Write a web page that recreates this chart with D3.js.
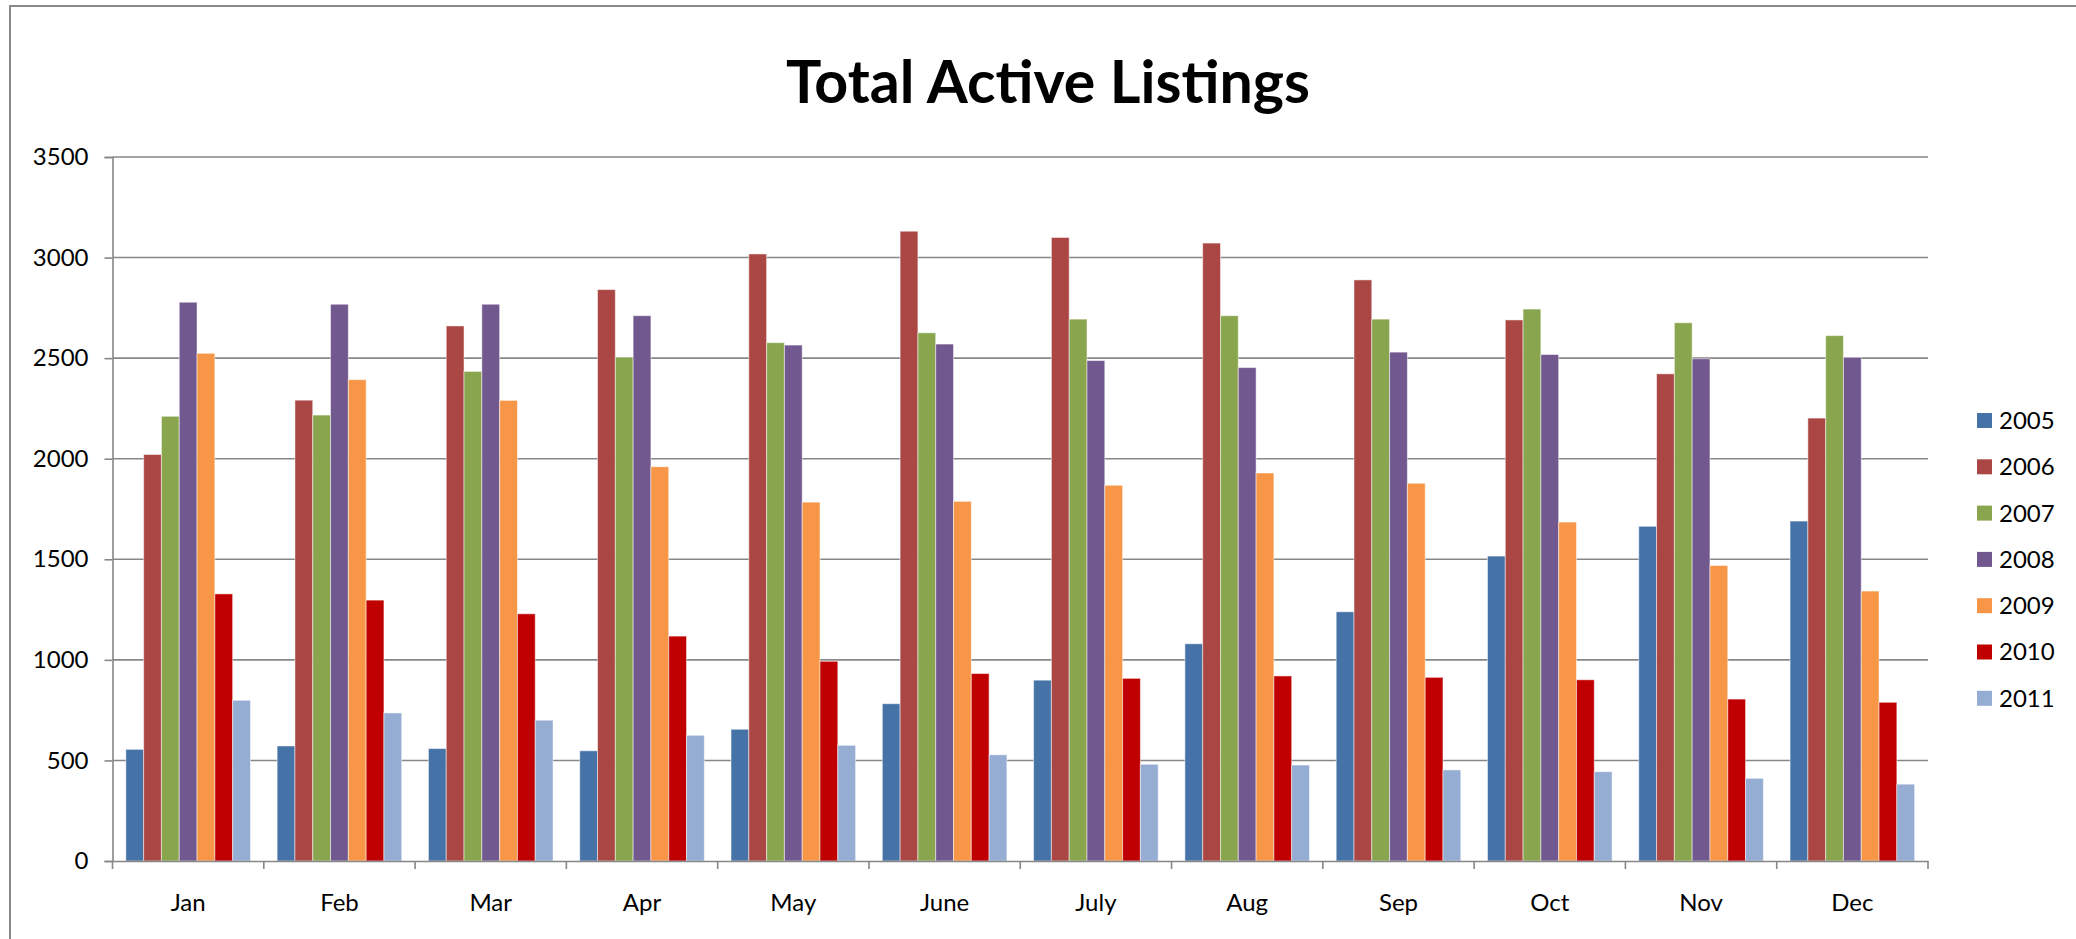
<!DOCTYPE html>
<html>
<head>
<meta charset="utf-8">
<script src="https://cdn.jsdelivr.net/npm/d3@7"></script>
<style>
  body { margin: 0; background: #fff; }
  text { font-family: Lato, "Liberation Sans", sans-serif; fill: #000; }
</style>
</head>
<body>
<div class="canva"></div>
<script>
// months along the bottom
var months = ["Jan","Feb","Mar","Apr","May","June","July","Aug","Sep","Oct","Nov","Dec"];
var years = ["2005","2006","2007","2008","2009","2010","2011"];
var yTicks = [0,500,1000,1500,2000,2500,3000,3500];

// listings per year
var v2005 = [555, 572, 559, 548, 655, 782, 899, 1080, 1239, 1516, 1664, 1690];
var v2006 = [2021, 2291, 2660, 2841, 3018, 3131, 3100, 3072, 2889, 2690, 2422, 2202];
var v2007 = [2211, 2217, 2434, 2505, 2577, 2626, 2694, 2711, 2694, 2744, 2676, 2612];
var v2008 = [2778, 2768, 2768, 2711, 2565, 2570, 2488, 2453, 2530, 2518, 2497, 2504];
var v2009 = [2524, 2393, 2290, 1960, 1784, 1788, 1868, 1929, 1878, 1685, 1469, 1342];
var v2010 = [1328, 1297, 1229, 1118, 993, 932, 908, 920, 913, 901, 805, 789];
var v2011 = [799, 736, 700, 625, 575, 528, 481, 477, 453, 444, 411, 382];

var colors = ["#4572A7","#AA4643","#89A54E","#71588F","#F79646","#C00000","#95ACD3"];

var series = [v2005, v2006, v2007, v2008, v2009, v2010, v2011];

const W = 2076, H = 939;
const plotL = 112.5, plotR = 1928, plotT = 157, plotB = 861;

const svg = d3.select(".canva").append("svg")
  .attr("width", W)
  .attr("height", H);

// outer chart frame (runs off the right and bottom edge)
svg.append("rect")
  .attr("x", 10).attr("y", 6)
  .attr("width", 2200).attr("height", 1000)
  .attr("fill", "none")
  .attr("stroke", "#8a8a8a")
  .attr("stroke-width", 2);

svg.append("text")
  .attr("x", 1048)
  .attr("y", 103)
  .attr("text-anchor", "middle")
  .attr("font-size", 59)
  .attr("font-weight", "bold")
  .attr("textLength", 524)
  .attr("lengthAdjust", "spacingAndGlyphs")
  .text("Total Active Listings");

const x0 = d3.scaleBand().domain(months).range([plotL, plotR]).padding(0);
const x1 = d3.scaleBand().domain(years).range([0, x0.bandwidth()])
  .paddingInner(0).paddingOuter(0.75);
const y = d3.scaleLinear().domain([0, 3500]).range([plotB, plotT]);

// gridlines
svg.append("g")
  .selectAll("line")
  .data(yTicks.filter(d => d > 0))
  .enter().append("line")
  .attr("x1", plotL).attr("x2", plotR)
  .attr("y1", d => y(d)).attr("y2", d => y(d))
  .attr("stroke", "#878787")
  .attr("stroke-width", 1.6);

// y axis
const yAxis = svg.append("g")
  .attr("transform", `translate(${plotL},0)`)
  .call(d3.axisLeft(y).tickValues(yTicks).tickFormat(d3.format("d")).tickSize(8).tickPadding(16));
yAxis.select(".domain").attr("stroke", "#878787").attr("stroke-width", 1.6);
yAxis.selectAll(".tick line").attr("stroke", "#878787").attr("stroke-width", 1.6);
yAxis.selectAll("text").attr("font-size", 24).attr("font-family", "Lato");

// bars
var rows = months.map((m, i) => ({ month: m, values: years.map((yr, j) => ({ year: yr, value: series[j][i], color: colors[j] })) }));

const groups = svg.append("g")
  .selectAll("g")
  .data(rows)
  .enter().append("g")
  .attr("transform", d => `translate(${x0(d.month)},0)`);

groups.selectAll("rect")
  .data(d => d.values)
  .enter().append("rect")
  .attr("x", d => x1(d.year))
  .attr("width", x1.bandwidth())
  .attr("y", d => y(d.value))
  .attr("height", d => plotB - y(d.value))
  .attr("fill", d => d.color)
  .attr("stroke", "rgba(255,255,255,0.5)")
  .attr("stroke-width", 1);

// x axis
const xAxis = svg.append("g")
  .attr("transform", `translate(0,${plotB})`)
  .call(d3.axisBottom(x0).tickSize(0).tickPadding(33));
xAxis.select(".domain").attr("stroke", "#878787").attr("stroke-width", 1.6);
xAxis.selectAll("text").attr("font-size", 24).attr("font-family", "Lato");

// category separators
svg.append("g")
  .selectAll("line")
  .data(d3.range(months.length + 1))
  .enter().append("line")
  .attr("x1", i => plotL + i * x0.step())
  .attr("x2", i => plotL + i * x0.step())
  .attr("y1", plotB).attr("y2", plotB + 8)
  .attr("stroke", "#878787")
  .attr("stroke-width", 1.6);

// legend
const legend = svg.append("g")
  .selectAll("g")
  .data(years)
  .enter().append("g")
  .attr("transform", (d, i) => `translate(1977,${420.5 + i * 46.3})`);

legend.append("rect")
  .attr("x", 0).attr("y", -7.5)
  .attr("width", 15).attr("height", 15)
  .attr("fill", (d, i) => colors[i]);

legend.append("text")
  .attr("x", 22)
  .attr("dy", "0.35em")
  .attr("font-size", 24)
  .text(d => d);
</script>
</body>
</html>
